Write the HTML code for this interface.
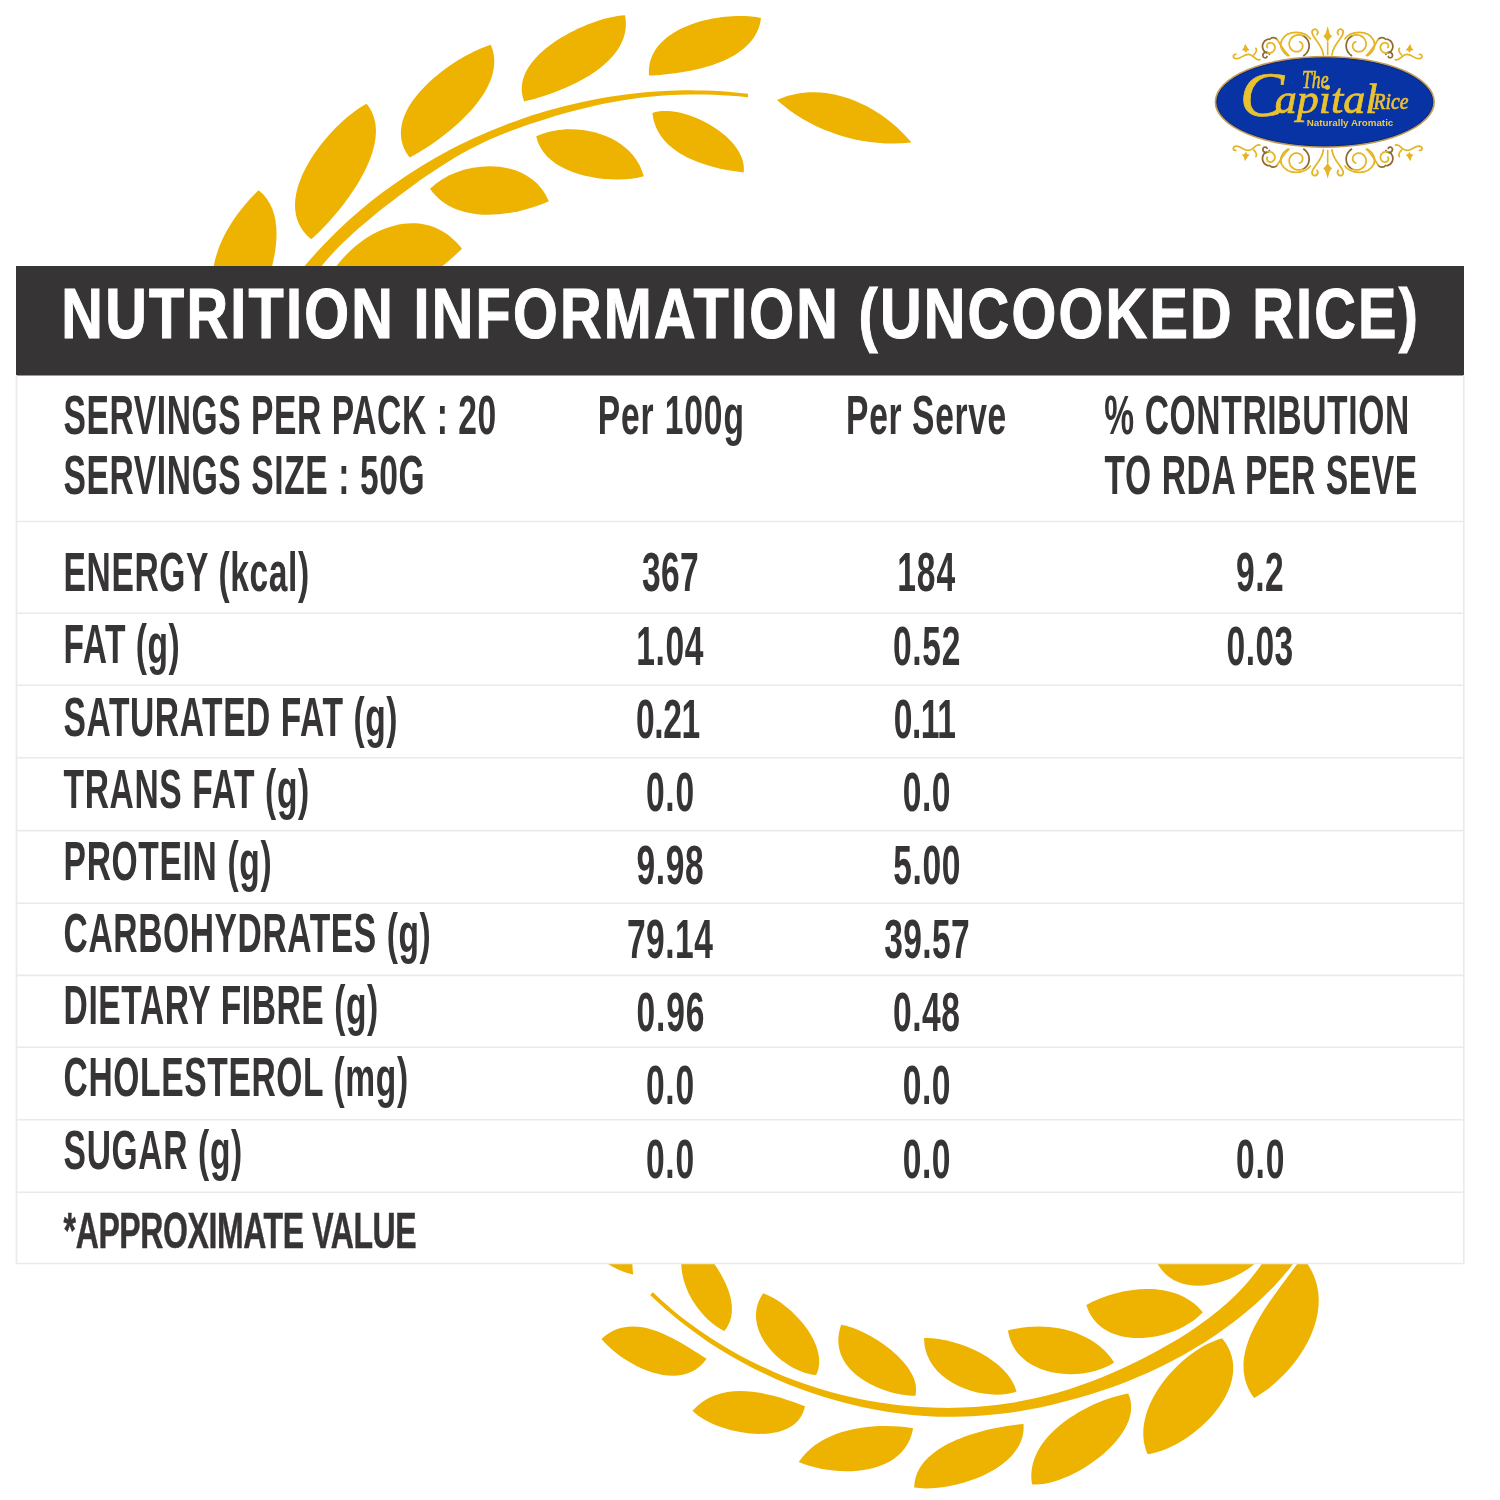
<!DOCTYPE html>
<html lang="en"><head><meta charset="utf-8"><title>Nutrition Information</title>
<style>html,body{margin:0;padding:0;background:#fff}body{width:1500px;height:1500px;overflow:hidden;position:relative}.cap{position:absolute;left:1240px;top:50px;margin:0;height:90px;line-height:90px;white-space:nowrap;font-family:"Liberation Serif","DejaVu Serif",serif;font-style:italic;font-weight:400;font-size:42px;color:#EAC230;-webkit-text-stroke:0.7px #EAC230;transform-origin:0 0;transform:scaleX(1.05)}.cap::first-letter{font-size:63px;vertical-align:-3px;margin-right:-9px}</style></head>
<body>
<svg width="1500" height="1500" viewBox="0 0 1500 1500" style="display:block">
<rect width="1500" height="1500" fill="#fff"/>
<g fill="#EDB300">
<path d="M295.8 276.9C297.7 274.6 303.2 267.8 307 263.3C310.8 258.8 314.7 254.5 318.7 250.1C322.6 245.8 326.7 241.6 330.8 237.5C334.9 233.3 339.1 229.3 343.4 225.3C347.7 221.3 352 217.4 356.5 213.6C360.9 209.7 365.4 206 369.9 202.3C374.5 198.7 379.1 195.1 383.8 191.6C388.5 188.1 393.2 184.7 398 181.4C402.8 178.1 407.7 174.8 412.6 171.7C417.5 168.5 422.5 165.5 427.5 162.5C432.6 159.5 437.6 156.6 442.8 153.8C447.9 151 453.1 148.3 458.3 145.6C463.6 143 468.8 140.5 474.1 138C479.5 135.6 484.8 133.2 490.2 130.9C495.6 128.7 501.1 126.5 506.5 124.4C512 122.3 517.5 120.3 523 118.4C528.6 116.5 534.2 114.7 539.8 113C545.4 111.3 551 109.7 556.6 108.2C562.3 106.6 568 105.2 573.7 103.9C579.4 102.5 585.1 101.3 590.8 100.2C596.6 99 602.4 98 608.1 97C613.9 96.1 619.7 95.2 625.5 94.5C631.3 93.7 637.1 93.1 642.9 92.5C648.8 92 654.6 91.6 660.4 91.2C666.3 90.9 672.1 90.6 677.9 90.5C683.8 90.3 689.6 90.3 695.5 90.4C701.3 90.4 707.1 90.6 713 90.8C718.8 91.1 724.6 91.5 730.5 92C736.3 92.5 745 93.4 747.9 93.7L748 97.3C745.2 97 736.8 96.1 731.1 95.7C725.5 95.3 719.9 95 714.2 94.7C708.6 94.5 702.9 94.4 697.3 94.4C691.7 94.4 686 94.5 680.4 94.7C674.8 94.9 669.1 95.1 663.5 95.6C657.9 96 652.3 96.5 646.7 97.1C641.1 97.7 635.5 98.4 629.9 99.2C624.4 100 618.8 100.9 613.3 102C607.7 103 602.2 104.1 596.7 105.3C591.2 106.5 585.7 107.8 580.2 109.2C574.8 110.6 569.3 112 563.9 113.6C558.4 115.1 553 116.7 547.6 118.4C542.2 120 536.9 121.8 531.5 123.6C526.1 125.4 520.8 127.2 515.5 129.2C510.2 131.1 505 133.1 499.8 135.3C494.6 137.4 489.4 139.7 484.3 142.1C479.3 144.4 474.2 147 469.3 149.6C464.3 152.2 459.4 155 454.6 157.8C449.8 160.7 445 163.7 440.3 166.7C435.5 169.8 430.8 172.9 426.2 176.1C421.6 179.3 417 182.6 412.4 185.9C407.8 189.2 403.3 192.6 398.8 196C394.3 199.4 389.8 202.9 385.3 206.3C380.9 209.8 376.4 213.3 372.1 216.9C367.7 220.5 363.4 224.1 359.2 227.8C354.9 231.5 350.8 235.3 346.7 239.2C342.6 243.1 338.6 247 334.8 251.1C330.9 255.2 327.1 259.3 323.5 263.7C319.9 268 314.8 274.8 313 277Z"/>
<path d="M652.9 1292.2C655.9 1294.9 664.7 1303.2 670.8 1308.4C677 1313.6 683.3 1318.6 689.8 1323.4C696.2 1328.2 702.8 1332.8 709.6 1337.3C716.3 1341.7 723.2 1345.9 730.2 1349.9C737.2 1354 744.3 1357.8 751.5 1361.4C758.7 1365.1 766 1368.5 773.4 1371.7C780.8 1374.9 788.3 1377.9 795.9 1380.7C803.5 1383.5 811.1 1386.1 818.9 1388.5C826.6 1390.9 834.4 1393.1 842.2 1395C850.1 1397 858 1398.7 865.9 1400.2C873.8 1401.7 881.8 1403 889.8 1404.1C897.8 1405.1 905.9 1406 913.9 1406.6C922 1407.2 930 1407.6 938.1 1407.8C946.1 1408 954.2 1407.9 962.3 1407.6C970.3 1407.3 978.4 1406.8 986.4 1406C994.4 1405.2 1002.4 1404.2 1010.3 1403C1018.3 1401.8 1026.2 1400.3 1034 1398.6C1041.9 1396.8 1049.7 1394.9 1057.5 1392.7C1065.2 1390.5 1072.9 1388 1080.5 1385.3C1088.1 1382.7 1095.7 1379.8 1103.2 1376.8C1110.7 1373.7 1118.1 1370.4 1125.4 1367C1132.8 1363.6 1140.1 1360 1147.3 1356.3C1154.5 1352.6 1161.6 1348.7 1168.6 1344.6C1175.6 1340.5 1182.5 1336.3 1189.3 1331.9C1196 1327.4 1202.6 1322.8 1209 1318C1215.4 1313.1 1221.6 1308 1227.5 1302.7C1233.5 1297.3 1239.2 1291.7 1244.6 1285.8C1249.9 1279.9 1255 1273.6 1259.7 1267C1264.3 1260.5 1270.3 1249.7 1272.5 1246.2L1305.4 1246.3C1302.9 1249.8 1295.8 1260.5 1290.5 1267.2C1285.3 1273.9 1279.6 1280.3 1273.8 1286.4C1268 1292.6 1261.9 1298.4 1255.6 1304.1C1249.3 1309.7 1242.7 1315.1 1236 1320.3C1229.3 1325.5 1222.4 1330.4 1215.4 1335.2C1208.4 1340 1201.2 1344.5 1193.9 1348.8C1186.6 1353.2 1179.1 1357.3 1171.5 1361.2C1164 1365.2 1156.3 1368.9 1148.5 1372.4C1140.7 1375.9 1132.8 1379.2 1124.8 1382.4C1116.8 1385.5 1108.8 1388.4 1100.6 1391.1C1092.5 1393.8 1084.3 1396.3 1076.1 1398.6C1067.9 1400.9 1059.6 1403 1051.3 1404.9C1043 1406.8 1034.6 1408.5 1026.3 1410C1017.9 1411.5 1009.5 1412.8 1001.1 1413.8C992.7 1414.8 984.3 1415.6 975.8 1416.1C967.4 1416.6 958.9 1416.9 950.5 1416.8C942 1416.8 933.5 1416.5 925.1 1415.9C916.6 1415.4 908.2 1414.5 899.7 1413.4C891.3 1412.4 882.9 1411 874.5 1409.4C866.1 1407.9 857.8 1406 849.5 1404C841.3 1402 833 1399.7 824.9 1397.2C816.7 1394.7 808.6 1391.9 800.6 1389C792.6 1386 784.7 1382.8 776.9 1379.4C769.1 1376 761.3 1372.4 753.7 1368.5C746.1 1364.7 738.6 1360.6 731.3 1356.3C723.9 1352 716.7 1347.6 709.6 1342.9C702.5 1338.2 695.6 1333.2 688.8 1328.1C682 1323 675.4 1317.7 668.9 1312.1C662.5 1306.6 653.3 1297.8 650.1 1295Z"/>
<path d="M258.6 190.3C300.9 223.8 257.3 312.5 240 345C189.9 293.1 214.9 232.5 258.6 190.3Z"/>
<path d="M366.6 103.7C398.6 142.7 340.2 213.7 311.3 239.3C264.6 201.6 329.4 123.2 366.6 103.7Z"/>
<path d="M490.8 44.7C510.1 89.7 443.9 139.5 409.6 157.5C374.8 112 452.7 56.4 490.8 44.7Z"/>
<path d="M625 15.3C634.6 64.1 562.6 92.8 524.2 101.5C506.3 56.2 589.7 16.7 625 15.3Z"/>
<path d="M761 18C755.7 63.8 686.2 74 649 75.6C645 25.7 723.6 10.2 761 18Z"/>
<path d="M777 100C824.2 78.2 881 105 911.5 142.6C864.4 147.8 812.3 132.2 777 100Z"/>
<path d="M652.4 113C682.4 102.4 748 136.8 743.7 172.4C709.4 168.8 656.6 155.1 652.4 113Z"/>
<path d="M536.2 136.2C573.6 119.2 632.4 133.1 643.8 176.2C612.7 185 544.7 177 536.2 136.2Z"/>
<path d="M430 188.8C460.9 158.2 530.3 155.5 548.8 201.2C513.2 216.9 456 225.8 430 188.8Z"/>
<path d="M462 248.8C417.1 190.8 334.6 241.8 320 300C374.6 315.9 424.8 284.7 462 248.8Z"/>
<path d="M633.2 1274.5C630.8 1256.9 637.6 1229.7 605 1235C585.1 1257.7 617.1 1271 633.2 1274.5Z"/>
<path d="M724.4 1331C748 1302 710.7 1255.3 690 1235C667.1 1266.5 693 1315.7 724.4 1331Z"/>
<path d="M601.5 1339C633.9 1309.1 677.2 1340.4 706.6 1358.8C681.1 1395.6 622.8 1364.8 601.5 1339Z"/>
<path d="M763.2 1293.3C789.1 1301.9 830.9 1344.9 816.1 1375.1C781.7 1371.8 738.7 1328 763.2 1293.3Z"/>
<path d="M841.2 1324.7C867 1328.5 923 1364.1 915.4 1395.8C879 1395.2 825.3 1369.4 841.2 1324.7Z"/>
<path d="M692.5 1410.8C721.4 1378.2 770.7 1392.8 805 1406.2C796 1450 715.3 1434.4 692.5 1410.8Z"/>
<path d="M798.7 1462.1C820.9 1427.6 875.5 1421.8 913.1 1428.2C904.7 1477.7 834.9 1477.6 798.7 1462.1Z"/>
<path d="M924.1 1338.1C955.1 1337 1008.2 1358.9 1016.5 1391.8C980.9 1403 923.4 1380.8 924.1 1338.1Z"/>
<path d="M1008 1330.6C1044.6 1320.5 1092.4 1328.8 1114.2 1362.5C1081.3 1383.9 1014.6 1377.3 1008 1330.6Z"/>
<path d="M1086.3 1305C1120.3 1286.5 1175.2 1278.6 1202.8 1312.2C1175.1 1342.5 1101 1353.1 1086.3 1305Z"/>
<path d="M1157.6 1264C1181.3 1237.6 1233.1 1225.4 1254.4 1264C1228.6 1285.5 1178.6 1299.5 1157.6 1264Z"/>
<path d="M914.2 1487.6C914.8 1442.9 988.6 1427 1023.5 1424C1027.2 1470 950 1493.2 914.2 1487.6Z"/>
<path d="M1032 1484.3C1023.7 1436.3 1088.5 1400.4 1128.2 1393.5C1147.5 1434.8 1068.9 1488 1032 1484.3Z"/>
<path d="M1147.6 1454.3C1127.6 1409.1 1181.1 1349.5 1222.1 1338.3C1259.9 1383.7 1193.3 1447.5 1147.6 1454.3Z"/>
<path d="M1254.2 1397.9C1219.5 1352.2 1278.3 1292.8 1302 1257C1343.6 1303.9 1300 1372.3 1254.2 1397.9Z"/>
</g>
<rect x="16" y="266" width="1448" height="998" fill="#fff"/>
<rect x="16" y="266" width="1448" height="109.5" fill="#373435"/>
<g stroke="#eaeaea" stroke-width="1.6" fill="none">
<path d="M16 521.5 H1464"/>
<path d="M16 613.3 H1464"/>
<path d="M16 685.3 H1464"/>
<path d="M16 757.8 H1464"/>
<path d="M16 830.6 H1464"/>
<path d="M16 903.2 H1464"/>
<path d="M16 975.4 H1464"/>
<path d="M16 1047.2 H1464"/>
<path d="M16 1119.8 H1464"/>
<path d="M16 1192.3 H1464"/>
<path d="M16 1263.5 H1464"/>
<path d="M16.5 375 V1264"/><path d="M1463.8 375 V1264"/>
</g>
<g font-family="Liberation Sans, Arial, Helvetica, sans-serif" font-weight="700" fill="#fff"><g id="tt">
<text transform="translate(61.3 338.2) scale(0.825 1)" font-size="69.8" letter-spacing="2.75" stroke="#fff" stroke-width="1.1">NUTRITION INFORMATION (UNCOOKED RICE)</text>
</g></g>
<g font-family="Liberation Sans, Arial, Helvetica, sans-serif" font-weight="700" fill="#373435"><g id="bt">
<text transform="translate(63.6 434) scale(0.6 1)" font-size="56" letter-spacing="0.96">SERVINGS PER PACK : 20</text>
<text transform="translate(63.6 494.2) scale(0.6 1)" font-size="56" letter-spacing="1.00">SERVINGS SIZE : 50G</text>
<text transform="translate(597.8 434) scale(0.6 1)" font-size="56" letter-spacing="1.45">Per 100g</text>
<text transform="translate(846.1 434) scale(0.6 1)" font-size="56" letter-spacing="1.05">Per Serve</text>
<text transform="translate(1104.2 434) scale(0.6 1)" font-size="56" letter-spacing="1.07">% CONTRIBUTION</text>
<text transform="translate(1104.6 494.2) scale(0.6 1)" font-size="56" letter-spacing="0.99">TO RDA PER SEVE</text>
<text transform="translate(63.6 591.3) scale(0.6 1)" font-size="56" letter-spacing="1.02">ENERGY (kcal)</text>
<text transform="translate(63.6 663.4) scale(0.6 1)" font-size="56" letter-spacing="0.80">FAT (g)</text>
<text transform="translate(63.6 735.6) scale(0.6 1)" font-size="56" letter-spacing="0.97">SATURATED FAT (g)</text>
<text transform="translate(63.6 807.8) scale(0.6 1)" font-size="56" letter-spacing="1.04">TRANS FAT (g)</text>
<text transform="translate(63.6 879.9) scale(0.6 1)" font-size="56" letter-spacing="1.08">PROTEIN (g)</text>
<text transform="translate(63.6 952) scale(0.6 1)" font-size="56" letter-spacing="1.00">CARBOHYDRATES (g)</text>
<text transform="translate(63.6 1024.2) scale(0.6 1)" font-size="56" letter-spacing="0.97">DIETARY FIBRE (g)</text>
<text transform="translate(63.6 1096.3) scale(0.6 1)" font-size="56" letter-spacing="1.04">CHOLESTEROL (mg)</text>
<text transform="translate(63.6 1168.5) scale(0.6 1)" font-size="56" letter-spacing="1.08">SUGAR (g)</text>
<text transform="translate(63.6 1248.1) scale(0.64 1)" font-size="50" letter-spacing="-0.61" stroke="#373435" stroke-width="0.5">*APPROXIMATE VALUE</text>
<text transform="translate(641.9 591.2) scale(0.6 1)" font-size="56" letter-spacing="0.65">367</text>
<text transform="translate(897.2 591.2) scale(0.6 1)" font-size="56" letter-spacing="1.61">184</text>
<text transform="translate(636.2 664.5) scale(0.6 1)" font-size="56" letter-spacing="1.05">1.04</text>
<text transform="translate(893 664.5) scale(0.6 1)" font-size="56" letter-spacing="1.10">0.52</text>
<text transform="translate(636 737.8) scale(0.6 1)" font-size="56" letter-spacing="-0.63">0.21</text>
<text transform="translate(893.7 737.8) scale(0.6 1)" font-size="56" letter-spacing="-0.71">0.11</text>
<text transform="translate(646 811.1) scale(0.6 1)" font-size="56" letter-spacing="1.16">0.0</text>
<text transform="translate(902.7 811.1) scale(0.6 1)" font-size="56" letter-spacing="0.83">0.0</text>
<text transform="translate(636.5 884.4) scale(0.6 1)" font-size="56" letter-spacing="1.00">9.98</text>
<text transform="translate(893.3 884.4) scale(0.6 1)" font-size="56" letter-spacing="0.95">5.00</text>
<text transform="translate(626.9 957.7) scale(0.6 1)" font-size="56" letter-spacing="0.81">79.14</text>
<text transform="translate(884.2 957.7) scale(0.6 1)" font-size="56" letter-spacing="0.61">39.57</text>
<text transform="translate(636.4 1031) scale(0.6 1)" font-size="56" letter-spacing="1.52">0.96</text>
<text transform="translate(893 1031) scale(0.6 1)" font-size="56" letter-spacing="0.92">0.48</text>
<text transform="translate(646 1104.3) scale(0.6 1)" font-size="56" letter-spacing="1.16">0.0</text>
<text transform="translate(902.7 1104.3) scale(0.6 1)" font-size="56" letter-spacing="0.83">0.0</text>
<text transform="translate(646 1177.6) scale(0.6 1)" font-size="56" letter-spacing="1.16">0.0</text>
<text transform="translate(902.7 1177.6) scale(0.6 1)" font-size="56" letter-spacing="0.83">0.0</text>
<text transform="translate(1236.1 591.2) scale(0.6 1)" font-size="56" letter-spacing="0.75">9.2</text>
<text transform="translate(1226.6 664.5) scale(0.6 1)" font-size="56" letter-spacing="0.64">0.03</text>
<text transform="translate(1236 1177.6) scale(0.6 1)" font-size="56" letter-spacing="1.41">0.0</text>
</g></g>
<g id="orn"><g transform="translate(1225 15) scale(0.13333)" fill="none" stroke-width="13" stroke-linecap="round"><g stroke="#8C6A2E"><path d="M591 304.7C593.5 302.6 601.3 297 605.8 292.5C610.2 288 614.2 282.9 617.5 277.7C620.8 272.4 623.6 266.7 625.8 261C627.9 255.2 629.4 249.1 630.3 243.1C631.2 237.1 631.4 231 631 225C630.6 219 629.6 213 627.9 207.4C626.3 201.7 624.1 196.1 621.4 191C618.7 185.9 615.3 181 611.7 176.6C608 172.2 603.8 168.1 599.3 164.7C594.9 161.2 587.4 157.2 585 155.7"/><path d="M324.9 180.9C323 181.6 316.8 183.2 313.1 185C309.3 186.8 305.7 189.1 302.5 191.6C299.3 194.1 296.3 197 293.7 200.2C291.1 203.3 288.9 206.8 287.1 210.3C285.3 213.9 283.8 217.7 282.9 221.6C281.9 225.4 281.3 229.4 281.2 233.3C281.1 237.2 281.4 241.2 282.1 245C282.8 248.7 284 252.5 285.5 256C287 259.5 288.9 262.9 291.1 265.9C293.3 269 295.9 271.8 298.7 274.3C301.5 276.8 304.6 279 307.8 280.7C311 282.5 316.2 284.3 317.9 285"/><path d="M392 185C380 165 350 165 335 182"/><path d="M333.2 294.7C332.2 293.4 329.6 288.9 327.3 286.7C325 284.4 322.2 282.6 319.4 281.3C316.6 280 313.4 279.2 310.5 278.9C307.5 278.7 304.4 279 301.7 279.7C298.9 280.4 296.2 281.7 294 283.3C291.7 284.8 289.7 286.8 288.2 288.9C286.7 291 285.5 293.5 284.8 295.9C284.2 298.2 283.9 300.8 284.1 303.2C284.2 305.5 284.9 307.9 285.7 309.9C286.6 312 288 313.9 289.4 315.4C290.9 316.9 292.7 318.2 294.4 319.1C296.2 320 298.2 320.5 300 320.7C301.9 320.9 303.8 320.8 305.5 320.4C307.2 320 308.8 319.2 310.2 318.3C311.5 317.4 312.7 316.2 313.5 315C314.4 313.7 315.1 311.7 315.4 311"/></g><g stroke="#E6B422"><path d="M738 300C732 250 705 215 682 185C660 155 640 125 662 110C688 98 706 125 690 146"/><path d="M585 155.7C582.8 155 576.3 152.3 571.9 151.2C567.4 150.1 562.9 149.4 558.4 149.1C553.9 148.8 549.4 148.9 545 149.3C540.6 149.8 536.3 150.7 532.1 151.9C528 153.1 523.9 154.7 520.1 156.6C516.3 158.5 512.7 160.7 509.3 163.2C506 165.7 502.9 168.5 500.1 171.5C497.3 174.4 494.8 177.7 492.6 181C490.4 184.3 488.5 187.9 487 191.5C485.4 195.1 484.3 198.9 483.4 202.6C482.5 206.3 482 210.1 481.9 213.9C481.7 217.6 481.9 221.4 482.3 225C482.8 228.6 483.6 232.2 484.7 235.6C485.8 239 487.2 242.4 488.8 245.4C490.5 248.5 492.4 251.5 494.5 254.2C496.6 256.9 498.9 259.3 501.4 261.6C503.9 263.8 506.6 265.8 509.4 267.5C512.1 269.2 515.1 270.6 518 271.8C520.9 272.9 524 273.8 527 274.4C530 275 533.1 275.3 536.1 275.3C539.1 275.4 542.1 275.1 545 274.7C547.9 274.2 550.7 273.4 553.4 272.5C556 271.5 558.6 270.3 561 269C563.4 267.6 565.6 266 567.7 264.3C569.7 262.5 571.6 260.6 573.2 258.6C574.9 256.6 576.3 254.5 577.5 252.3C578.7 250.1 579.7 247.8 580.5 245.5C581.3 243.2 581.8 240.8 582.2 238.5C582.5 236.2 582.6 233.9 582.5 231.6C582.4 229.4 582.1 227.1 581.7 225C581.2 222.9 580.5 220.8 579.7 218.9C578.9 217 577.9 215.1 576.7 213.4C575.6 211.8 574.3 210.2 573 208.8C571.7 207.4 570.2 206.2 568.7 205.1C567.1 204.1 565.5 203.2 563.9 202.4C562.3 201.7 559.8 201 559 200.8"/><path d="M640 178C600 120 470 105 425 190C405 235 430 280 470 305"/><path d="M392 185C420 230 440 270 480 305"/><path d="M317.9 285C319.6 285.2 324.8 286.2 328.1 286.3C331.5 286.4 334.9 286.1 338.2 285.4C341.4 284.8 344.6 283.8 347.6 282.6C350.5 281.3 353.4 279.7 355.9 277.9C358.5 276.1 360.9 274 363 271.8C365 269.5 366.9 267.1 368.4 264.5C369.9 262 371.1 259.2 372 256.5C372.9 253.8 373.5 250.9 373.9 248.1C374.2 245.4 374.2 242.5 373.9 239.8C373.6 237.1 373 234.5 372.2 232C371.4 229.5 370.3 227 369 224.8C367.7 222.6 366.2 220.6 364.5 218.8C362.9 217 361 215.3 359 214C357.1 212.6 355 211.4 352.9 210.5C350.8 209.6 348.6 209 346.4 208.6C344.2 208.2 342 208 339.9 208.1C337.7 208.1 335.6 208.5 333.6 209C331.7 209.5 329.7 210.2 328 211.1C326.2 211.9 324.6 213 323.1 214.2C321.6 215.4 320.3 216.7 319.2 218.1C318.1 219.5 317.1 221.1 316.4 222.6C315.6 224.1 315.1 225.8 314.7 227.3C314.3 228.9 314.1 230.6 314.1 232.1C314.1 233.7 314.3 235.2 314.6 236.6C314.9 238.1 315.4 239.4 316 240.7C316.5 242 317.7 243.6 318.1 244.2"/><path d="M262 335C225 345 215 300 180 295C140 292 120 330 85 328C55 326 55 292 82 295"/><path d="M215 300C235 280 240 262 232 250"/></g><g fill="#E6B422" stroke="none"><path d="M150 215L172 250L185 262L166 268L158 285L146 268L126 262L140 248Z"/></g></g><g transform="translate(1225 15) scale(0.13333) translate(1540 0) scale(-1 1)" fill="none" stroke-width="13" stroke-linecap="round"><g stroke="#8C6A2E"><path d="M591 304.7C593.5 302.6 601.3 297 605.8 292.5C610.2 288 614.2 282.9 617.5 277.7C620.8 272.4 623.6 266.7 625.8 261C627.9 255.2 629.4 249.1 630.3 243.1C631.2 237.1 631.4 231 631 225C630.6 219 629.6 213 627.9 207.4C626.3 201.7 624.1 196.1 621.4 191C618.7 185.9 615.3 181 611.7 176.6C608 172.2 603.8 168.1 599.3 164.7C594.9 161.2 587.4 157.2 585 155.7"/><path d="M324.9 180.9C323 181.6 316.8 183.2 313.1 185C309.3 186.8 305.7 189.1 302.5 191.6C299.3 194.1 296.3 197 293.7 200.2C291.1 203.3 288.9 206.8 287.1 210.3C285.3 213.9 283.8 217.7 282.9 221.6C281.9 225.4 281.3 229.4 281.2 233.3C281.1 237.2 281.4 241.2 282.1 245C282.8 248.7 284 252.5 285.5 256C287 259.5 288.9 262.9 291.1 265.9C293.3 269 295.9 271.8 298.7 274.3C301.5 276.8 304.6 279 307.8 280.7C311 282.5 316.2 284.3 317.9 285"/><path d="M392 185C380 165 350 165 335 182"/><path d="M333.2 294.7C332.2 293.4 329.6 288.9 327.3 286.7C325 284.4 322.2 282.6 319.4 281.3C316.6 280 313.4 279.2 310.5 278.9C307.5 278.7 304.4 279 301.7 279.7C298.9 280.4 296.2 281.7 294 283.3C291.7 284.8 289.7 286.8 288.2 288.9C286.7 291 285.5 293.5 284.8 295.9C284.2 298.2 283.9 300.8 284.1 303.2C284.2 305.5 284.9 307.9 285.7 309.9C286.6 312 288 313.9 289.4 315.4C290.9 316.9 292.7 318.2 294.4 319.1C296.2 320 298.2 320.5 300 320.7C301.9 320.9 303.8 320.8 305.5 320.4C307.2 320 308.8 319.2 310.2 318.3C311.5 317.4 312.7 316.2 313.5 315C314.4 313.7 315.1 311.7 315.4 311"/></g><g stroke="#E6B422"><path d="M738 300C732 250 705 215 682 185C660 155 640 125 662 110C688 98 706 125 690 146"/><path d="M585 155.7C582.8 155 576.3 152.3 571.9 151.2C567.4 150.1 562.9 149.4 558.4 149.1C553.9 148.8 549.4 148.9 545 149.3C540.6 149.8 536.3 150.7 532.1 151.9C528 153.1 523.9 154.7 520.1 156.6C516.3 158.5 512.7 160.7 509.3 163.2C506 165.7 502.9 168.5 500.1 171.5C497.3 174.4 494.8 177.7 492.6 181C490.4 184.3 488.5 187.9 487 191.5C485.4 195.1 484.3 198.9 483.4 202.6C482.5 206.3 482 210.1 481.9 213.9C481.7 217.6 481.9 221.4 482.3 225C482.8 228.6 483.6 232.2 484.7 235.6C485.8 239 487.2 242.4 488.8 245.4C490.5 248.5 492.4 251.5 494.5 254.2C496.6 256.9 498.9 259.3 501.4 261.6C503.9 263.8 506.6 265.8 509.4 267.5C512.1 269.2 515.1 270.6 518 271.8C520.9 272.9 524 273.8 527 274.4C530 275 533.1 275.3 536.1 275.3C539.1 275.4 542.1 275.1 545 274.7C547.9 274.2 550.7 273.4 553.4 272.5C556 271.5 558.6 270.3 561 269C563.4 267.6 565.6 266 567.7 264.3C569.7 262.5 571.6 260.6 573.2 258.6C574.9 256.6 576.3 254.5 577.5 252.3C578.7 250.1 579.7 247.8 580.5 245.5C581.3 243.2 581.8 240.8 582.2 238.5C582.5 236.2 582.6 233.9 582.5 231.6C582.4 229.4 582.1 227.1 581.7 225C581.2 222.9 580.5 220.8 579.7 218.9C578.9 217 577.9 215.1 576.7 213.4C575.6 211.8 574.3 210.2 573 208.8C571.7 207.4 570.2 206.2 568.7 205.1C567.1 204.1 565.5 203.2 563.9 202.4C562.3 201.7 559.8 201 559 200.8"/><path d="M640 178C600 120 470 105 425 190C405 235 430 280 470 305"/><path d="M392 185C420 230 440 270 480 305"/><path d="M317.9 285C319.6 285.2 324.8 286.2 328.1 286.3C331.5 286.4 334.9 286.1 338.2 285.4C341.4 284.8 344.6 283.8 347.6 282.6C350.5 281.3 353.4 279.7 355.9 277.9C358.5 276.1 360.9 274 363 271.8C365 269.5 366.9 267.1 368.4 264.5C369.9 262 371.1 259.2 372 256.5C372.9 253.8 373.5 250.9 373.9 248.1C374.2 245.4 374.2 242.5 373.9 239.8C373.6 237.1 373 234.5 372.2 232C371.4 229.5 370.3 227 369 224.8C367.7 222.6 366.2 220.6 364.5 218.8C362.9 217 361 215.3 359 214C357.1 212.6 355 211.4 352.9 210.5C350.8 209.6 348.6 209 346.4 208.6C344.2 208.2 342 208 339.9 208.1C337.7 208.1 335.6 208.5 333.6 209C331.7 209.5 329.7 210.2 328 211.1C326.2 211.9 324.6 213 323.1 214.2C321.6 215.4 320.3 216.7 319.2 218.1C318.1 219.5 317.1 221.1 316.4 222.6C315.6 224.1 315.1 225.8 314.7 227.3C314.3 228.9 314.1 230.6 314.1 232.1C314.1 233.7 314.3 235.2 314.6 236.6C314.9 238.1 315.4 239.4 316 240.7C316.5 242 317.7 243.6 318.1 244.2"/><path d="M262 335C225 345 215 300 180 295C140 292 120 330 85 328C55 326 55 292 82 295"/><path d="M215 300C235 280 240 262 232 250"/></g><g fill="#E6B422" stroke="none"><path d="M150 215L172 250L185 262L166 268L158 285L146 268L126 262L140 248Z"/></g></g><g transform="translate(1225 15) scale(0.13333)" fill="#E6B422"><path d="M770 85L786 140L803 162L786 176L770 202L754 176L737 162L754 140Z"/><path d="M764 200H776V300H764Z"/></g></g>
<use href="#orn" transform="translate(0 204.8) scale(1 -1)"/>
<ellipse cx="1324.8" cy="101.9" rx="110.2" ry="46.1" fill="#C29C56"/>
<ellipse cx="1324.8" cy="101.9" rx="108" ry="44" fill="#0733A4" stroke="#052683" stroke-width="1"/>
<g fill="#EAC230" font-family="Liberation Serif, DejaVu Serif, serif" font-style="italic" stroke="#EAC230" stroke-width="0.7" stroke-linejoin="round">
<text x="1302" y="88" font-size="26" textLength="26.5" lengthAdjust="spacingAndGlyphs">The</text>
<text x="1373.5" y="109" font-size="23" textLength="35" lengthAdjust="spacingAndGlyphs">Rice</text>
</g>
<text x="1306.7" y="125.9" font-family="Liberation Sans, Arial, sans-serif" font-weight="700" font-size="9.6" fill="#E8CB50" textLength="86.6" lengthAdjust="spacingAndGlyphs">Naturally Aromatic</text>
</svg>
<div class="cap">Capital</div>
</body></html>
